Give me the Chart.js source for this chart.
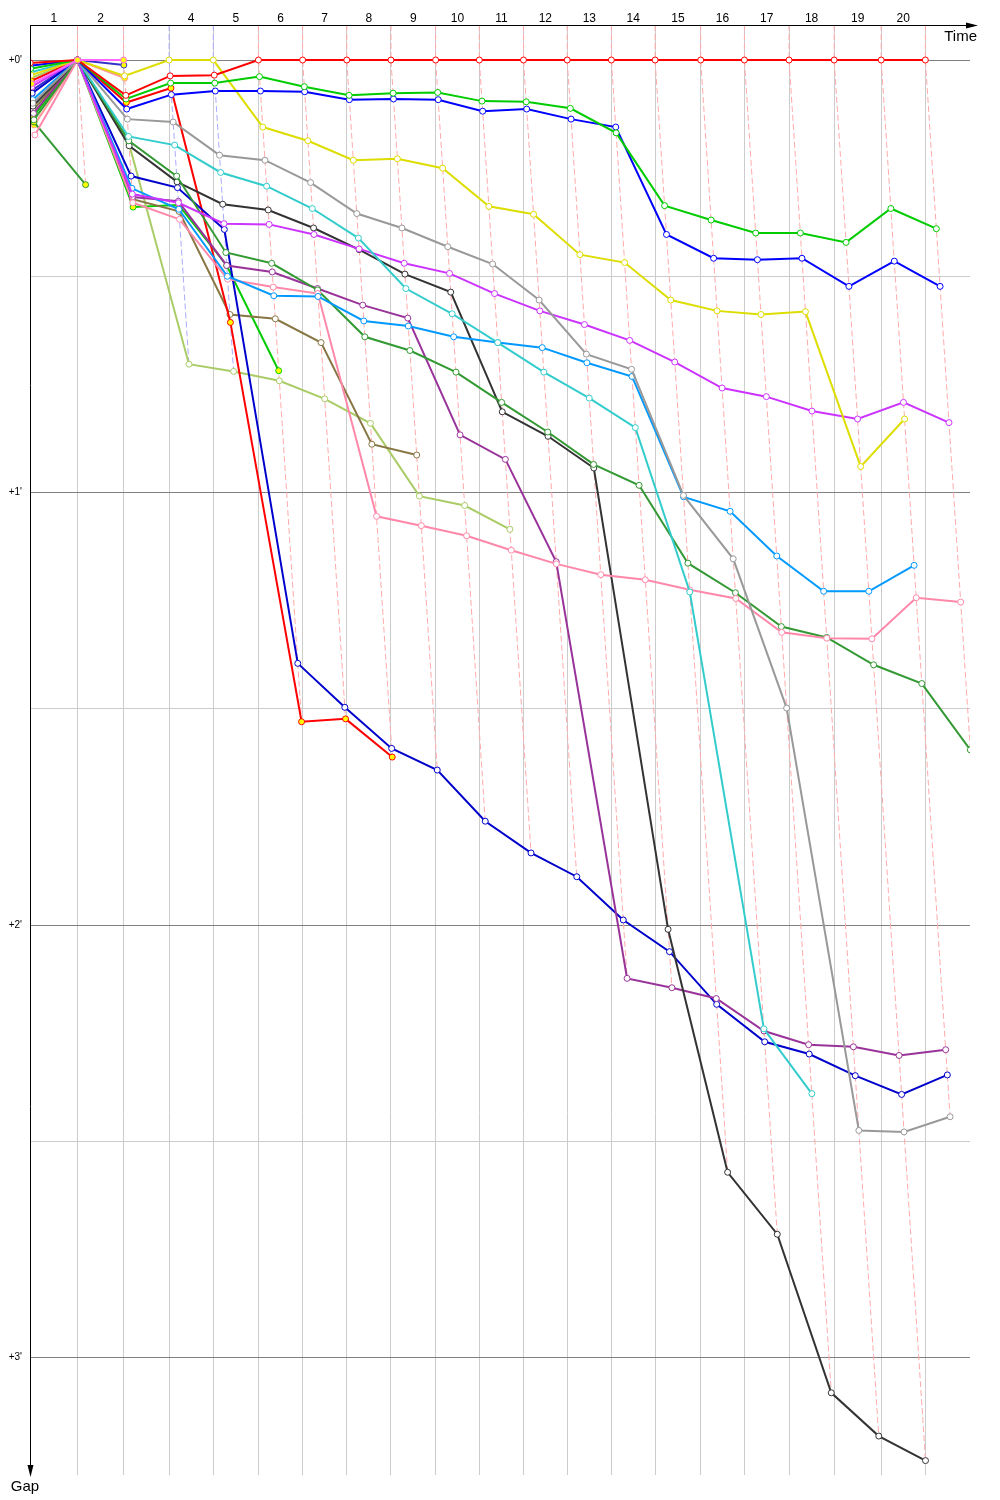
<!DOCTYPE html>
<html>
<head>
<meta charset="utf-8">
<script src="https://cdn.jsdelivr.net/npm/chart.js@4.4.1/dist/chart.umd.min.js"></script>
<style>
  body { margin: 0; background: #fff; }
  canvas { display: block; }
</style>
</head>
<body>
<canvas id="gapChart" width="1000" height="1500"></canvas>
<script>
// leader's elapsed time (s) at the end of each lap, lap 0 = start
const lapTimes = [0, 101, 199, 296, 390, 486, 580, 674, 768, 863, 956, 1050, 1143, 1237, 1330, 1427, 1520, 1615, 1711, 1811, 1905];
const lapLabels = ['1', '2', '3', '4', '5', '6', '7', '8', '9', '10', '11', '12', '13', '14', '15', '16', '17', '18', '19', '20'];
const gapTicks = [0, 30, 60, 90, 120, 150, 180];

// gap to the leader (s) per lap, index = lap number
const redGaps = [0.4, 0, 4.9, 2.2, 2.1, 0, 0, 0, 0, 0, 0, 0, 0, 0, 0, 0, 0, 0, 0, 0, 0];
const greenGaps = [1.2, 0, 5.4, 3.2, 3.2, 2.3, 3.7, 4.9, 4.6, 4.5, 5.7, 5.8, 6.7, 10.1, 20.2, 22.2, 24.0, 24.0, 25.3, 20.6, 23.4];
const blueGaps = [0.8, 0, 6.8, 4.8, 4.3, 4.3, 4.4, 5.5, 5.4, 5.5, 7.1, 6.8, 8.2, 9.3, 24.2, 27.5, 27.7, 27.5, 31.4, 27.9, 31.4];
const yellowGaps = [2.1, 0, 2.2, 0, 0, 9.3, 11.2, 13.9, 13.7, 15.0, 20.3, 21.4, 27.0, 28.1, 33.3, 34.8, 35.3, 34.9, 56.4, 49.8];
const grayGaps = [6.0, 0, 8.2, 8.6, 13.2, 13.9, 17.0, 21.3, 23.3, 25.9, 28.3, 33.3, 40.8, 42.9, 60.4, 69.2, 89.9, 148.5, 148.7, 146.6];
const cyanGaps = [1.7, 0, 10.6, 11.8, 15.6, 17.5, 20.6, 24.7, 31.7, 35.2, 39.2, 43.3, 46.9, 51.0, 73.8, 134.4, 143.4];
const violetGaps = [3.7, 0, 18.6, 19.8, 22.7, 22.8, 24.2, 26.2, 28.2, 29.6, 32.4, 34.8, 36.7, 38.9, 41.9, 45.5, 46.7, 48.7, 49.8, 47.5, 50.3];
const skyGaps = [5.5, 0, 17.8, 20.7, 30.0, 32.7, 32.8, 36.2, 36.9, 38.4, 39.2, 39.9, 42.0, 43.9, 60.6, 62.6, 68.8, 73.7, 73.7, 70.1];
const pinkGaps = [10.4, 0, 19.8, 22.1, 30.4, 31.5, 32.4, 63.3, 64.6, 66.0, 68.0, 69.9, 71.4, 72.1, 73.5, 74.7, 79.4, 80.2, 80.3, 74.6, 75.2];
const darkGreenGaps = [8.3, 0, 11.2, 16.1, 26.7, 28.2, 31.9, 38.4, 40.3, 43.3, 47.5, 51.6, 56.1, 59.0, 69.8, 73.9, 78.6, 80.1, 83.9, 86.5, 95.7];
const blackGaps = [6.4, 0, 11.9, 16.9, 20.0, 20.8, 23.3, 26.3, 29.7, 32.2, 48.8, 52.2, 56.6, 120.6, 154.3, 162.9, 184.9, 190.9, 194.3];
const purpleGaps = [7.4, 0, 19.0, 19.6, 28.5, 29.4, 31.7, 34.0, 35.8, 52.0, 55.4, 69.6, 127.4, 128.7, 130.2, 134.7, 136.6, 136.9, 138.1, 137.3];
const navyGaps = [4.6, 0, 16.1, 17.7, 23.5, 83.7, 89.8, 95.5, 98.5, 105.6, 110.0, 113.3, 119.3, 123.7, 131.0, 136.2, 137.9, 140.9, 143.5, 140.8];
const red2Gaps = [2.9, 0, 5.9, 3.9, 36.4, 91.8, 91.4, 96.7];
const oliveGaps = [6.9, 0, 19.3, 21.0, 35.3, 35.9, 39.2, 53.3, 54.8];
const lightGreenGaps = [2.5, 0, 11.6, 42.2, 43.2, 44.5, 47.0, 50.4, 60.5, 61.8, 65.1];
const limeGaps = [7.8, 0, 20.4, 20.1, 28.5, 43.1];
const darkGreen2Gaps = [8.6, 17.3];
const magentaGaps = [3.3, 0, 0];
const navy2Gaps = [4.2, 0, 0.7];
const salmonGaps = [9.0, 0, 2.5];

// first entry is drawn on top
const drivers = [
  { gaps: magentaGaps, color: '#ff66ff', fill: '#ffff00' },
  { gaps: redGaps, color: '#ff0000', fill: '#ffffff' },
  { gaps: greenGaps, color: '#00cc00', fill: '#ffffff' },
  { gaps: blueGaps, color: '#0000ff', fill: '#ffffff' },
  { gaps: yellowGaps, color: '#dddd00', fill: '#ffffff' },
  { gaps: grayGaps, color: '#999999', fill: '#ffffff' },
  { gaps: cyanGaps, color: '#33cccc', fill: '#ffffff' },
  { gaps: violetGaps, color: '#cc33ff', fill: '#ffffff' },
  { gaps: skyGaps, color: '#0099ff', fill: '#ffffff' },
  { gaps: pinkGaps, color: '#ff88aa', fill: '#ffffff' },
  { gaps: darkGreenGaps, color: '#339933', fill: '#ffffff' },
  { gaps: blackGaps, color: '#333333', fill: '#ffffff' },
  { gaps: purpleGaps, color: '#993399', fill: '#ffffff' },
  { gaps: navyGaps, color: '#0000cc', fill: '#ffffff' },
  { gaps: red2Gaps, color: '#ff0000', fill: '#ffff00' },
  { gaps: oliveGaps, color: '#887744', fill: '#ffffff' },
  { gaps: lightGreenGaps, color: '#aacc66', fill: '#ffffff' },
  { gaps: limeGaps, color: '#00cc00', fill: '#ffff00' },
  { gaps: darkGreen2Gaps, color: '#339933', fill: '#ffff00' },
  { gaps: navy2Gaps, color: '#3333cc', fill: '#ffff00' },
  { gaps: salmonGaps, color: '#ff9999', fill: '#ffff00' }
];

const gapMin = -4.86;
const gapMax = 196.3;

const toPoints = gaps => gaps.map((g, lap) => ({ x: lapTimes[lap] + g, y: g }));

const datasets = drivers.map(d => ({
  data: toPoints(d.gaps),
  borderColor: d.color,
  borderWidth: 2,
  pointRadius: 3,
  pointBorderWidth: 1,
  pointBorderColor: d.color,
  pointBackgroundColor: d.fill,
  order: 0
}));

// dashed line joining every car at the end of the same lap
for (let n = 1; n < lapTimes.length; n++) {
  const gs = drivers.filter(d => d.gaps.length > n).map(d => d.gaps[n]).sort((a, b) => a - b);
  const pts = [{ x: lapTimes[n], y: gapMin }].concat(gs.map(g => ({ x: lapTimes[n] + g, y: g })));
  datasets.push({
    data: pts,
    borderColor: (n === 3 || n === 4) ? '#aaaaff' : '#ffaaaa',
    borderWidth: 1,
    borderDash: [6, 3],
    pointRadius: 0,
    order: 1
  });
}

const axesPlugin = {
  id: 'axes',
  afterDraw(chart) {
    const c = chart.ctx;
    const xs = chart.scales.x;
    const a = chart.chartArea;
    c.save();
    c.fillStyle = '#000';
    c.strokeStyle = '#000';
    c.lineWidth = 1;
    c.beginPath();
    c.moveTo(a.left, a.top + 0.5);
    c.lineTo(a.right - 2, a.top + 0.5);
    c.moveTo(a.left + 0.5, a.top);
    c.lineTo(a.left + 0.5, a.bottom - 8);
    c.stroke();
    c.beginPath();
    c.moveTo(a.right - 4, a.top - 2.5);
    c.lineTo(a.right + 8, a.top + 0.5);
    c.lineTo(a.right - 4, a.top + 3.5);
    c.fill();
    c.beginPath();
    c.moveTo(a.left - 2.5, a.bottom - 10);
    c.lineTo(a.left + 0.5, a.bottom + 2);
    c.lineTo(a.left + 3.5, a.bottom - 10);
    c.fill();

    c.font = '12px "Liberation Sans"';
    c.textAlign = 'center';
    c.textBaseline = 'alphabetic';
    lapLabels.forEach((t, i) => {
      const x = (xs.getPixelForValue(lapTimes[i]) + xs.getPixelForValue(lapTimes[i + 1])) / 2;
      c.fillText(t, x, 22);
    });
    c.font = '15px "Liberation Sans"';
    c.textAlign = 'right';
    c.fillText('Time', a.right + 7, 41);
    c.textAlign = 'center';
    c.fillText('Gap', a.left - 5, 1491);
    c.restore();
  }
};

new Chart(document.getElementById('gapChart'), {
  type: 'line',
  data: { datasets: datasets },
  options: {
    responsive: false,
    animation: false,
    layout: { padding: { right: 30, bottom: 25 } },
    elements: { line: { tension: 0 } },
    scales: {
      x: {
        type: 'linear',
        position: 'top',
        min: 0,
        max: 2000,
        afterFit: s => { s.height = 25; },
        afterBuildTicks: s => { s.ticks = lapTimes.slice(1).map(v => ({ value: v })); },
        ticks: { display: false },
        grid: { color: '#cccccc', drawTicks: false },
        border: { display: false }
      },
      y: {
        type: 'linear',
        reverse: true,
        min: gapMin,
        max: gapMax,
        afterFit: s => { s.width = 30; },
        afterBuildTicks: s => { s.ticks = gapTicks.map(v => ({ value: v })); },
        ticks: {
          padding: 8,
          color: '#000',
          font: { size: 10, family: 'Liberation Sans' },
          callback: v => v % 60 === 0 ? '+' + (v / 60) + '\'' : ''
        },
        grid: {
          drawTicks: false,
          color: ctx => (ctx.tick && ctx.tick.value % 60 === 0) ? '#808080' : '#cccccc'
        },
        border: { display: false }
      }
    },
    plugins: {
      legend: { display: false },
      tooltip: { enabled: false }
    }
  },
  plugins: [axesPlugin]
});
</script>
</body>
</html>
